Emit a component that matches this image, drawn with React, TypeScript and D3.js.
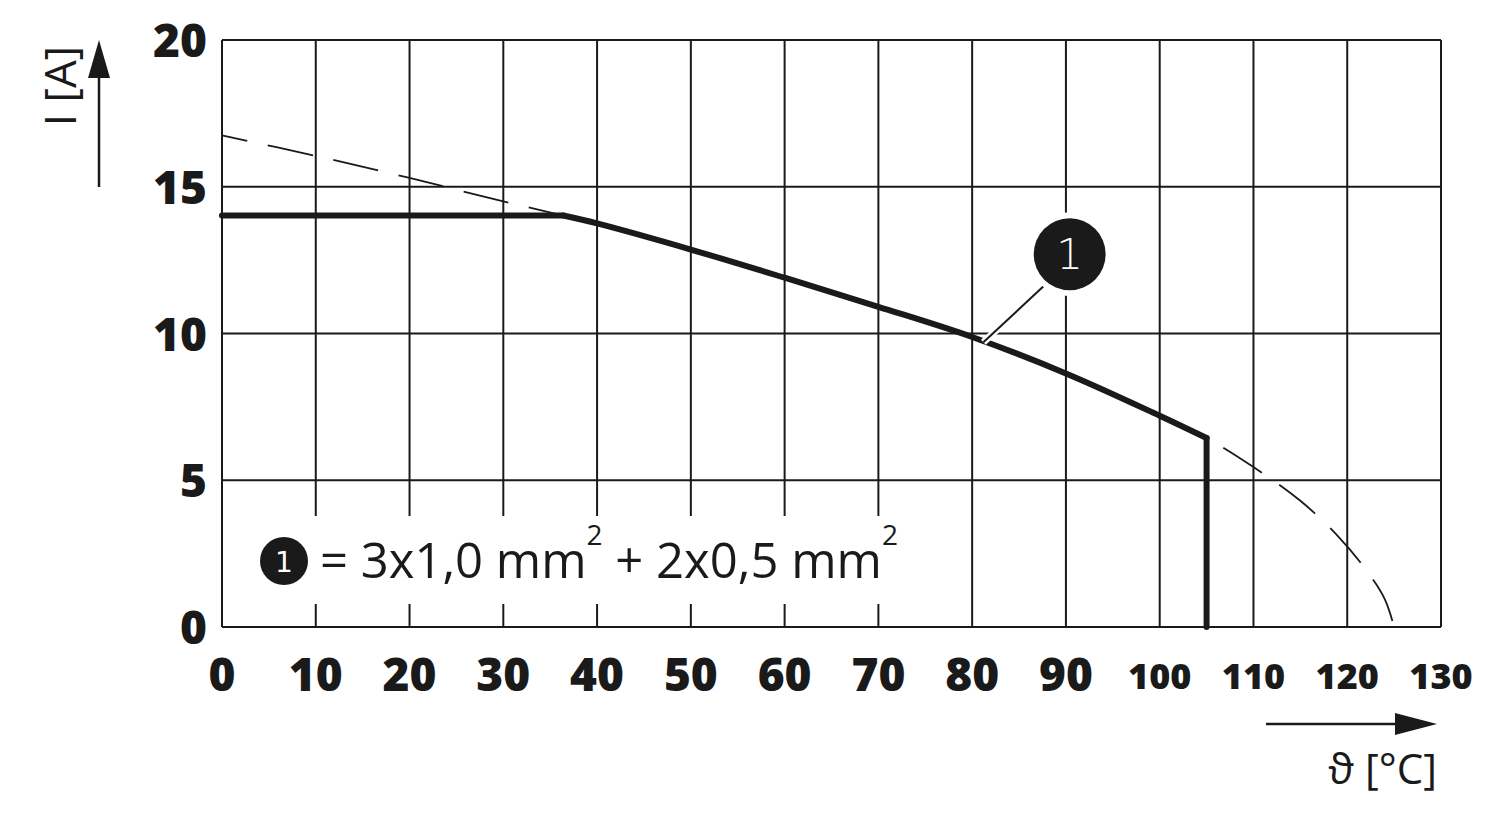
import React from "react";
import * as d3 from "d3";

const xTicks = [0, 10, 20, 30, 40, 50, 60, 70, 80, 90, 100, 110, 120, 130];
const yTicks = [0, 5, 10, 15, 20];

// Solid derating curve (temperature °C, current A)
const solidT = [0, 36.4, 40, 50, 60, 70, 80, 90, 100, 105];
const solidI = [14.02, 14.02, 13.75, 12.86, 11.9, 10.91, 9.88, 8.64, 7.2, 6.44];

// Dashed base curve
const dashT = [0, 10, 20, 30, 36.4, 40, 50, 60, 70, 80, 90, 100, 105, 110, 115, 119, 122, 124, 125];
const dashI = [16.75, 16.05, 15.3, 14.5, 14.02, 13.75, 12.86, 11.9, 10.91, 9.88, 8.64, 7.2, 6.44, 5.45, 4.3, 3.1, 1.95, 0.95, 0];

const legendText = ["= 3x1,0 mm", "2", " + 2x0,5 mm", "2"];

const W = 1500;
const H = 821;
const left = 222, right = 1441, top = 40, bottom = 627;

export default function App() {
  const x = d3.scaleLinear().domain([0, 130]).range([left, right]);
  const y = d3.scaleLinear().domain([0, 20]).range([bottom, top]);

  const flatPart = d3
    .line<number>()
    .x((_, i) => x(solidT[i]))
    .y((d) => y(d))(solidI.slice(0, 2)) as string;

  const curvePart = d3
    .line<number>()
    .x((_, i) => x(solidT[i + 1]))
    .y((d) => y(d))
    .curve(d3.curveCatmullRom.alpha(0.5))(solidI.slice(1)) as string;

  const dashLine = d3
    .line<number>()
    .x((_, i) => x(dashT[i]))
    .y((d) => y(d))
    .curve(d3.curveCatmullRom.alpha(0.5))(dashI) as string;

  const ink = "#1a1a1a";
  const boldFont = "'Open Sans', 'Liberation Sans', sans-serif";
  const regFont = "'Open Sans', 'Liberation Sans', sans-serif";

  const calloutX = x(90.4);
  const calloutY = y(12.7);
  const leadEnd = { x: x(81.2), y: y(9.7) };
  const leadStart = { x: calloutX - 24, y: calloutY + 30 };

  return (
    <svg
      width={W}
      height={H}
      style={{ position: "absolute", left: 0, top: 0, background: "#fff" }}
    >
      <rect x={0} y={0} width={W} height={H} fill="#fff" />
      {/* grid */}
      {xTicks.map((t) => (
        <line key={"gx" + t} x1={x(t)} x2={x(t)} y1={top} y2={bottom} stroke={ink} strokeWidth={2} />
      ))}
      {yTicks.map((t) => (
        <line key={"gy" + t} x1={left} x2={right} y1={y(t)} y2={y(t)} stroke={ink} strokeWidth={2} />
      ))}

      {/* dashed curve */}
      <path d={dashLine} fill="none" stroke={ink} strokeWidth={1.8} strokeDasharray="46 21" strokeDashoffset={20} />

      {/* solid curve */}
      <path d={flatPart} fill="none" stroke={ink} strokeWidth={6} strokeLinecap="round" />
      <path d={curvePart} fill="none" stroke={ink} strokeWidth={6} strokeLinejoin="round" strokeLinecap="round" />
      <line x1={x(105)} x2={x(105)} y1={y(6.44)} y2={y(0)} stroke={ink} strokeWidth={6} strokeLinecap="round" />

      {/* callout */}
      <line x1={leadStart.x} y1={leadStart.y} x2={leadEnd.x} y2={leadEnd.y} stroke="#fff" strokeWidth={7} />
      <line x1={leadStart.x} y1={leadStart.y} x2={leadEnd.x} y2={leadEnd.y} stroke={ink} strokeWidth={2} />
      <circle cx={calloutX} cy={calloutY} r={42} fill="#fff" />
      <circle cx={calloutX} cy={calloutY} r={36} fill={ink} />
      <text x={calloutX} y={calloutY + 15} textAnchor="middle" fill="#fff" fontFamily="'DejaVu Sans', sans-serif" fontSize={42} fontWeight={300}>1</text>

      {/* legend */}
      <rect x={252} y={516} width={662} height={88} fill="#fff" />
      <circle cx={284} cy={561} r={24} fill={ink} />
      <text x={284} y={572} textAnchor="middle" fill="#fff" fontFamily="'DejaVu Sans', sans-serif" fontSize={28}>1</text>
      <text x={320} y={578} fill={ink} fontFamily={regFont} fontSize={49}>
        <tspan>{legendText[0]}</tspan>
        <tspan dy={-33} fontSize={28}>{legendText[1]}</tspan>
        <tspan dy={33}>{legendText[2]}</tspan>
        <tspan dy={-33} fontSize={28}>{legendText[3]}</tspan>
      </text>

      {/* y tick labels */}
      {yTicks.map((t) => (
        <text key={"ty" + t} x={207} y={y(t) + 17} textAnchor="end" fill={ink} fontFamily={boldFont} fontWeight={800} fontSize={46}>
          {t}
        </text>
      ))}
      {/* x tick labels */}
      {xTicks.map((t) => (
        <text
          key={"tx" + t}
          x={x(t)}
          y={t >= 100 ? 689 : 691}
          textAnchor="middle"
          fill={ink}
          fontFamily={boldFont}
          fontWeight={800}
          fontSize={t >= 100 ? 36 : 46}
        >
          {t}
        </text>
      ))}

      {/* y axis title and arrow */}
      <text transform="translate(76,86) rotate(-90)" textAnchor="middle" fill={ink} fontFamily={regFont} fontSize={44}>I [A]</text>
      <line x1={99} x2={99} y1={187} y2={72} stroke={ink} strokeWidth={2.5} />
      <path d="M99,40 L88,78 L110,78 Z" fill={ink} />

      {/* x axis title and arrow */}
      <line x1={1266} x2={1400} y1={724} y2={724} stroke={ink} strokeWidth={2.5} />
      <path d="M1437,724 L1395,713 L1395,735 Z" fill={ink} />
      <text x={1437} y={784} textAnchor="end" fill={ink} fontFamily={regFont} fontSize={42}>ϑ [°C]</text>
    </svg>
  );
}
